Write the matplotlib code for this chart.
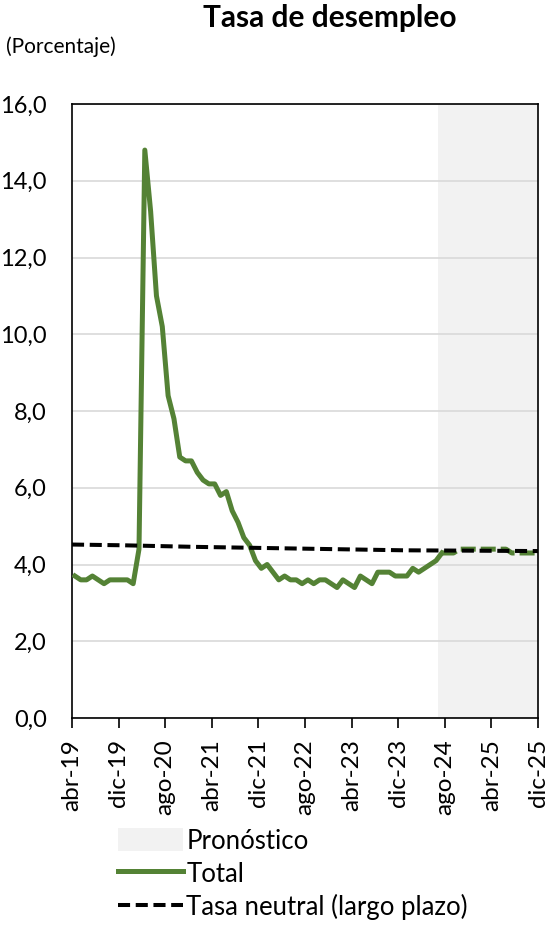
import matplotlib
matplotlib.use('Agg')
import numpy as np
import matplotlib.pyplot as plt
from matplotlib.patches import Patch
from matplotlib.lines import Line2D

plt.rcParams['font.family'] = ['Lato', 'DejaVu Sans']

MESES = ['ene', 'feb', 'mar', 'abr', 'may', 'jun', 'jul', 'ago', 'sep', 'oct', 'nov', 'dic']


def month_pos(label):
    """Months elapsed since abr-19 for a label like 'ago-24'."""
    mes, anio = label.split('-')
    return (int(anio) - 19) * 12 + MESES.index(mes) - 3


# observed unemployment, abr-19 .. jul-24 (monthly)
total_start = 'abr-19'
total = [3.7, 3.6, 3.6, 3.7, 3.6, 3.5, 3.6, 3.6, 3.6,
         3.6, 3.5, 4.4, 14.8, 13.2, 11.0, 10.2, 8.4, 7.8, 6.8, 6.7, 6.7,
         6.4, 6.2, 6.1, 6.1, 5.8, 5.9, 5.4, 5.1, 4.7, 4.5, 4.1, 3.9,
         4.0, 3.8, 3.6, 3.7, 3.6, 3.6, 3.5, 3.6, 3.5, 3.6, 3.6, 3.5,
         3.4, 3.6, 3.5, 3.4, 3.7, 3.6, 3.5, 3.8, 3.8, 3.8, 3.7, 3.7,
         3.7, 3.9, 3.8, 3.9, 4.0, 4.1, 4.3]

# forecast, jul-24 .. nov-25 (monthly)
forecast_start = 'jul-24'
forecast = [4.3, 4.3, 4.3, 4.4, 4.4, 4.4, 4.4, 4.4, 4.4, 4.4, 4.4, 4.4,
            4.3, 4.3, 4.3, 4.3, 4.3]

# long-run neutral rate
neutral_months = ['abr-19', 'ene-20', 'ene-21', 'ene-22', 'ene-23', 'ene-24', 'ene-25', 'dic-25']
neutral = [4.52, 4.50, 4.46, 4.43, 4.40, 4.37, 4.36, 4.35]

tick_labels = ['abr-19', 'dic-19', 'ago-20', 'abr-21', 'dic-21', 'ago-22',
               'abr-23', 'dic-23', 'ago-24', 'abr-25', 'dic-25']
forecast_shade = ('jul-24', 'dic-25')

GREEN = '#548235'

fig = plt.figure(figsize=(5.5, 9.27), dpi=100)
ax = fig.add_axes([72/550, 1 - 718/927, (538 - 72)/550, (718 - 104)/927])

ax.axvspan(month_pos(forecast_shade[0]) - 0.1, month_pos(forecast_shade[1]),
           color='#f2f2f2', lw=0, zorder=0)

x_total = np.arange(len(total)) + month_pos(total_start) + 0.5
x_fc = np.arange(len(forecast)) + month_pos(forecast_start) + 0.5
x_neu = [month_pos(m) for m in neutral_months]

ax.plot(x_total, total, color=GREEN, lw=3.6, solid_joinstyle='round', zorder=3)
ax.plot(x_fc, forecast, color=GREEN, lw=3.6, linestyle=(0, (3, 1)), zorder=3)
ax.plot(x_neu, neutral, color='black', lw=2.9, linestyle=(0, (3, 1.4)), zorder=4)

ax.set_xlim(0, 80)
ax.set_ylim(0, 16)
ax.set_yticks(np.arange(0, 17, 2))
ax.set_yticklabels([f'{v:.1f}'.replace('.', ',') for v in np.arange(0, 17, 2)], fontsize=17)
ax.set_xticks([month_pos(t) for t in tick_labels])
ax.set_xticklabels(tick_labels, rotation=90, fontsize=17.5)
ax.tick_params(axis='y', length=0, pad=18)
ax.tick_params(axis='x', direction='out', length=7, width=1.2, pad=8)
ax.grid(axis='y', color='#d9d9d9', lw=1.2, zorder=1)
ax.set_axisbelow(True)
for s in ax.spines.values():
    s.set_color('black')
    s.set_linewidth(1.2)

fig.text(330/550, 1 - 18/927, 'Tasa de desempleo', ha='center', va='center',
         fontsize=21.5, fontweight='bold')
fig.text(6/550, 1 - 47/927, '(Porcentaje)', ha='left', va='center', fontsize=15)

handles = [Patch(facecolor='#f2f2f2', edgecolor='none'),
           Line2D([], [], color=GREEN, lw=3.6),
           Line2D([], [], color='black', lw=2.9, linestyle=(0, (3, 1.4)))]
labels = ['Pronóstico', 'Total', 'Tasa neutral (largo plazo)']
fig.legend(handles, labels, loc='upper left', bbox_to_anchor=(108/550, 1 - 818/927),
           frameon=False, fontsize=18.5, handlelength=2.5, handleheight=1.0,
           handletextpad=0.15, labelspacing=0.3, borderaxespad=0)

fig.savefig('out.png', dpi=100)
